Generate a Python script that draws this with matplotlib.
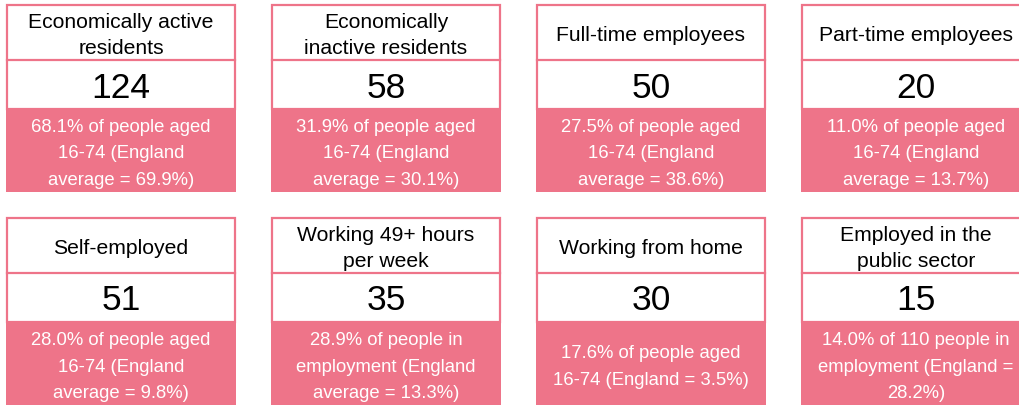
import matplotlib.pyplot as plt
from matplotlib.patches import Rectangle

plt.rcParams['font.family'] = ['Liberation Sans', 'DejaVu Sans']

titles = ['Economically active\nresidents', 'Economically\ninactive residents',
          'Full-time employees', 'Part-time employees',
          'Self-employed', 'Working 49+ hours\nper week',
          'Working from home', 'Employed in the\npublic sector']
values = [124, 58, 50, 20, 51, 35, 30, 15]
notes = ['68.1% of people aged\n16-74 (England\naverage = 69.9%)',
         '31.9% of people aged\n16-74 (England\naverage = 30.1%)',
         '27.5% of people aged\n16-74 (England\naverage = 38.6%)',
         '11.0% of people aged\n16-74 (England\naverage = 13.7%)',
         '28.0% of people aged\n16-74 (England\naverage = 9.8%)',
         '28.9% of people in\nemployment (England\naverage = 13.3%)',
         '17.6% of people aged\n16-74 (England = 3.5%)',
         '14.0% of 110 people in\nemployment (England =\n28.2%)']

pink = '#ee7489'
W, H = 1019, 405

fig = plt.figure(figsize=(W / 100, H / 100), dpi=100)
ax = fig.add_axes([0, 0, 1, 1])
ax.set_xlim(0, W)
ax.set_ylim(H, 0)
ax.axis('off')

card_w = 228
for i in range(len(values)):
    x0 = 7 + (i % 4) * 265
    y0 = 5 + (i // 4) * 213
    cx = x0 + card_w / 2
    # header + number boxes with pink border
    ax.add_patch(Rectangle((x0, y0), card_w, 104, facecolor='white',
                           edgecolor=pink, lw=1.6))
    ax.plot([x0, x0 + card_w], [y0 + 55, y0 + 55], color=pink, lw=1.6)
    # pink footer
    ax.add_patch(Rectangle((x0 - 0.8, y0 + 104), card_w + 1.6, 83,
                           facecolor=pink, edgecolor='none'))
    ax.text(cx, y0 + 30.5, titles[i], ha='center', va='center', fontsize=15.2,
            color='black', linespacing=1.5)
    ax.text(cx, y0 + 83, str(values[i]), ha='center', va='center',
            fontsize=25.5, color='black')
    ax.text(cx, y0 + 149, notes[i], ha='center', va='center', fontsize=13.3,
            color='white', linespacing=1.75)

fig.savefig('out.png', dpi=100)
